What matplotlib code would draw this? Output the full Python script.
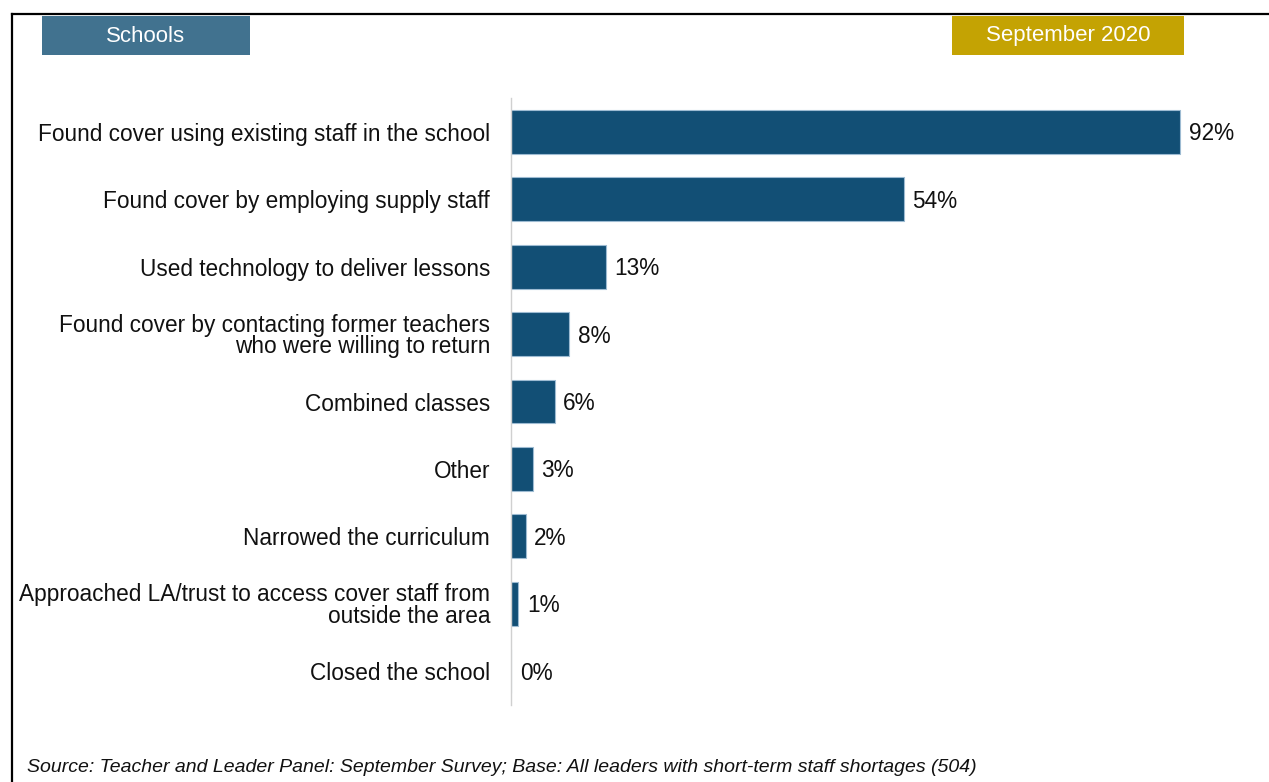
import matplotlib.pyplot as plt
from matplotlib.lines import Line2D
from matplotlib.patches import Rectangle

plt.rcParams['font.family'] = ['Liberation Sans', 'DejaVu Sans']

categories = [
    "Found cover using existing staff in the school",
    "Found cover by employing supply staff",
    "Used technology to deliver lessons",
    "Found cover by contacting former teachers\nwho were willing to return",
    "Combined classes",
    "Other",
    "Narrowed the curriculum",
    "Approached LA/trust to access cover staff from\noutside the area",
    "Closed the school",
]
values = [92, 54, 13, 8, 6, 3, 2, 1, 0]
header_left = "Schools"
header_right = "September 2020"
source = "Source: Teacher and Leader Panel: September Survey; Base: All leaders with short-term staff shortages (504)"

W, H = 1269, 782
fig = plt.figure(figsize=(W / 100, H / 100), dpi=100)

# axes placed in pixels
ax = fig.add_axes([511 / W, 77 / H, 727 / W, 607 / H])
y = list(range(len(categories)))
ax.barh(y, values, height=0.65, color='#124f75', edgecolor='#9dbbd2', linewidth=0.8)
ax.set_xlim(0, 100)
ax.set_ylim(len(categories) - 0.5, -0.5)
ax.set_yticks(y)
ax.set_yticklabels(categories, fontsize=16.3, color='#111111', linespacing=0.92)
ax.tick_params(axis='y', length=0, pad=15)
ax.set_xticks([])
for s in ['top', 'right', 'bottom']:
    ax.spines[s].set_visible(False)
ax.spines['left'].set_color('#d0d0d0')
ax.spines['left'].set_linewidth(1)

for yi, v in zip(y, values):
    ax.text(v + 1.2, yi + 0.03, f"{v}%", va='center', ha='left', fontsize=16.3, color='#111111')

# header boxes
fig.patches.append(Rectangle((42 / W, 1 - 55 / H), 208 / W, 39 / H, transform=fig.transFigure,
                             facecolor='#41728f', edgecolor='none'))
fig.text(146 / W, 1 - 36 / H, header_left, ha='center', va='center', fontsize=16, color='white')
fig.patches.append(Rectangle((952 / W, 1 - 55 / H), 232 / W, 39 / H, transform=fig.transFigure,
                             facecolor='#c4a303', edgecolor='none'))
fig.text(1068 / W, 1 - 36 / H, header_right, ha='center', va='center', fontsize=16, color='white')

# frame (top and left only visible)
fig.lines.append(Line2D([12 / W, 1], [1 - 13.5 / H, 1 - 13.5 / H], transform=fig.transFigure,
                        color='black', linewidth=1.6))
fig.lines.append(Line2D([12 / W, 12 / W], [0, 1 - 13.5 / H], transform=fig.transFigure,
                        color='black', linewidth=1.6))

fig.text(27 / W, 1 - 767 / H, source, ha='left', va='center', fontsize=14, style='italic', color='#111111')

fig.savefig('out.png', dpi=100)
